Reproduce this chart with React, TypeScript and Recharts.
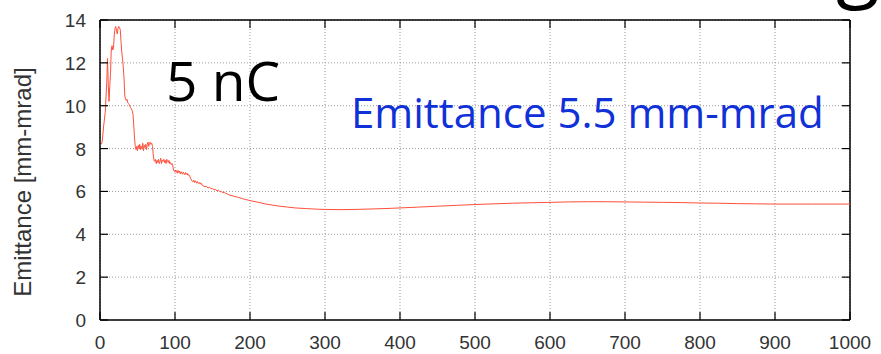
import React from 'react';
import { LineChart, Line, XAxis, YAxis, CartesianGrid, ReferenceLine } from 'recharts';

// Longitudinal position along the beamline
const positions = [
  2, 3, 5, 7, 9, 10, 11, 12, 13, 14, 15, 16, 17, 18, 19, 20, 21, 22, 23, 24, 25, 26, 27, 28, 29, 30,
  31, 32, 33, 34, 35, 36, 37, 38, 39, 40, 41, 42, 43, 44, 45, 46, 47, 48, 49, 50, 51, 52, 53, 54, 55,
  56, 57, 58, 59, 60, 61, 62, 63, 64, 65, 66, 67, 68, 69, 70, 71, 72, 73, 74, 75, 76, 77, 78, 79, 80,
  81, 82, 83, 84, 85, 86, 87, 88, 89, 90, 91, 92, 93, 94, 95, 96, 97, 98, 99, 100, 101, 102, 103, 104,
  105, 106, 107, 108, 109, 110, 111, 112, 113, 114, 115, 116, 117, 118, 119, 120, 121, 122, 123, 124,
  125, 126, 127, 128, 129, 130, 131, 132, 133, 134, 135, 136, 138, 140, 142, 144, 146, 148, 150, 152,
  154, 156, 158, 160, 162, 164, 166, 168, 170, 172, 176, 180, 185, 190, 195, 200, 210, 220, 230, 240,
  250, 260, 275, 290, 300, 320, 340, 360, 380, 400, 425, 450, 475, 500, 525, 550, 575, 600, 625, 650,
  675, 700, 725, 750, 775, 800, 825, 850, 875, 900, 950, 1000,
];

// Emittance [mm-mrad] at each position
const emittance = [
  8.2, 8.35, 9.1, 9.7, 11.1, 12.2, 11.0, 10.2, 10.9, 11.5, 12.6, 12.8, 12.6, 12.7, 13.3, 13.6, 13.7, 13.5,
  13.35, 13.6, 13.7, 13.65, 13.55, 13.0, 12.5, 12.2,
  11.8, 11.3, 10.5, 10.3, 10.25, 10.3, 10.15, 10.1, 10.05, 9.95, 9.9, 9.85, 9.75, 9.6, 9.1, 8.5, 8.1, 7.95,
  8.1, 7.9, 8.15, 8.0, 8.2, 7.95, 8.1,
  8.0, 8.25, 7.9, 8.15, 8.05, 8.2, 7.95, 8.2, 8.3, 8.1, 8.25, 8.3, 8.2, 8.25, 8.1, 7.7, 7.45, 7.4, 7.5,
  7.3, 7.45, 7.35, 7.5, 7.3, 7.4,
  7.55, 7.3, 7.45, 7.4, 7.5, 7.35, 7.45, 7.3, 7.5, 7.4, 7.35, 7.45, 7.3, 7.35, 7.25, 7.3, 7.2, 7.0, 6.95,
  6.9, 7.0, 6.95, 6.85, 6.98,
  6.88, 6.95, 6.82, 6.92, 6.86, 6.8, 6.9, 6.84, 6.78, 6.88, 6.8, 6.85, 6.76, 6.8, 6.72, 6.7, 6.6, 6.52,
  6.48, 6.45,
  6.52, 6.42, 6.5, 6.44, 6.38, 6.46, 6.4, 6.36, 6.42, 6.34, 6.38, 6.3, 6.26, 6.22, 6.24, 6.16, 6.2, 6.12,
  6.14, 6.08,
  6.1, 6.02, 6.06, 5.98, 6.0, 5.94, 5.96, 5.9, 5.88, 5.84, 5.8, 5.76, 5.72, 5.66, 5.62, 5.57, 5.5, 5.42,
  5.36, 5.31,
  5.27, 5.23, 5.2, 5.17, 5.16, 5.15, 5.16, 5.18, 5.2, 5.23, 5.27, 5.31, 5.35, 5.39, 5.42, 5.45, 5.47,
  5.49, 5.51, 5.52,
  5.52, 5.51, 5.5, 5.49, 5.48, 5.46, 5.45, 5.43, 5.42, 5.41, 5.41, 5.41,
];

const xTicks = [0, 100, 200, 300, 400, 500, 600, 700, 800, 900, 1000];
const yTicks = [0, 2, 4, 6, 8, 10, 12, 14];

const data = positions.map((s, i) => ({ s, e: emittance[i] }));

const W = 881;
const H = 354;
const MARGIN = { top: 20, right: 31, bottom: 0, left: 0 };
const Y_AXIS_W = 100;
const X_AXIS_H = 34;
const PLOT_W = W - MARGIN.right - Y_AXIS_W;
const PLOT_H = H - MARGIN.top - X_AXIS_H;
const TICK_LEN = 8;
const Y_TICK_GAP = 14;
const X_TICK_GAP = 15;
const TICK_FONT = '"Liberation Sans", Arial, sans-serif';

// Left axis tick: label outside, short ticks pointing inward on both sides
const YTick = (props: any) => {
  const { x, y, payload } = props;
  const axisX = x + Y_TICK_GAP;
  return (
    <g>
      <line x1={axisX} x2={axisX + TICK_LEN} y1={y} y2={y} stroke="#000" strokeWidth={1.2} />
      <line x1={axisX + PLOT_W - TICK_LEN} x2={axisX + PLOT_W} y1={y} y2={y} stroke="#000" strokeWidth={1.2} />
      <text x={x} y={y + 7} textAnchor="end" fontFamily={TICK_FONT} fontSize={19} fill="#333">
        {payload.value}
      </text>
    </g>
  );
};

// Bottom axis tick: label below, inward ticks at bottom and top
const XTick = (props: any) => {
  const { x, y, payload } = props;
  const axisY = y - X_TICK_GAP;
  return (
    <g>
      <line x1={x} x2={x} y1={axisY} y2={axisY - TICK_LEN} stroke="#000" strokeWidth={1.2} />
      <line x1={x} x2={x} y1={axisY - PLOT_H} y2={axisY - PLOT_H + TICK_LEN} stroke="#000" strokeWidth={1.2} />
      <text x={x} y={axisY + 29} textAnchor="middle" fontFamily={TICK_FONT} fontSize={19} fill="#333">
        {payload.value}
      </text>
    </g>
  );
};

export default function App() {
  return (
    <div style={{ position: 'absolute', left: 0, top: 0, width: W, height: H, background: '#fff' }}>
      <LineChart width={W} height={H} data={data} margin={MARGIN}>
        <CartesianGrid stroke="#9a9a9a" strokeDasharray="1 2" strokeWidth={1} />
        <XAxis
          dataKey="s"
          type="number"
          domain={[0, 1000]}
          ticks={xTicks}
          height={X_AXIS_H}
          tickSize={0}
          tickMargin={X_TICK_GAP}
          tick={XTick}
          axisLine={{ stroke: '#000', strokeWidth: 1.5 }}
          interval={0}
        />
        <YAxis
          type="number"
          domain={[0, 14]}
          ticks={yTicks}
          width={Y_AXIS_W}
          tickSize={0}
          tickMargin={Y_TICK_GAP}
          tick={YTick}
          axisLine={{ stroke: '#000', strokeWidth: 1.5 }}
          interval={0}
        />
        <ReferenceLine y={14} stroke="#000" strokeWidth={1.5} />
        <ReferenceLine x={1000} stroke="#000" strokeWidth={1.5} />
        <Line
          dataKey="e"
          type="linear"
          stroke="#ff4f3a"
          strokeWidth={1}
          dot={false}
          isAnimationActive={false}
        />
      </LineChart>
      <svg
        width={W}
        height={H}
        style={{ position: 'absolute', left: 0, top: 0, pointerEvents: 'none' }}
      >
        <text
          x={31}
          y={182}
          transform="rotate(-90 31 182)"
          textAnchor="middle"
          fontFamily={TICK_FONT}
          fontSize={24}
          fill="#333"
        >
          Emittance [mm-mrad]
        </text>
        <text x={166} y={101} fontFamily='"Open Sans", sans-serif' fontSize={55} fill="#000">
          5 nC
        </text>
        <text x={351} y={128} fontFamily='"Open Sans", sans-serif' fontSize={42} fill="#1030d8">
          Emittance 5.5 mm-mrad
        </text>
        <text x={836} y={-8} fontFamily='"Open Sans", sans-serif' fontSize={80} fill="#000">
          g
        </text>
      </svg>
    </div>
  );
}
